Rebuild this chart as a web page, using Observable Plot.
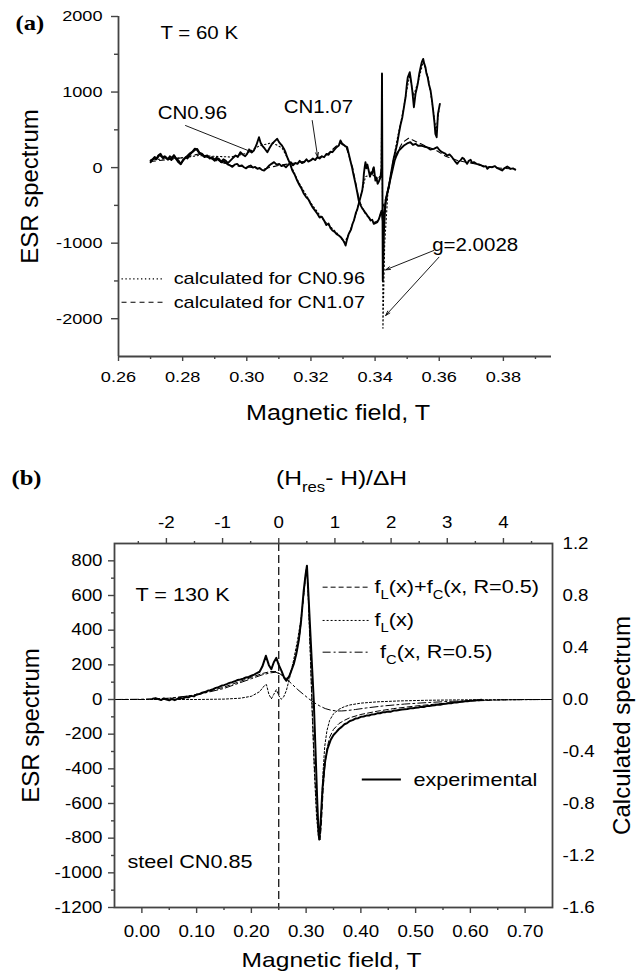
<!DOCTYPE html>
<html><head><meta charset="utf-8">
<script src="https://cdn.jsdelivr.net/npm/d3@7"></script>
<script src="https://cdn.jsdelivr.net/npm/@observablehq/plot@0.6"></script>
<style>
html,body{margin:0;padding:0;background:#fff;}
#wrap{position:relative;width:641px;height:975px;overflow:hidden;background:#fff;}
#pa{position:absolute;left:0;top:0;}
#pb{position:absolute;left:0;top:430px;}
</style></head><body><div id="wrap"><div id="pa"></div><div id="pb"></div></div>
<script>
// ---------------- Panel (a) data: T = 60 K ----------------
const fieldCN096 = [0.2700,0.2705,0.2712,0.2718,0.2724,0.2731,0.2737,0.2744,0.2752,0.2758,0.2765,0.2773,0.2780,0.2787,0.2794,0.2800,0.2809,0.2815,0.2822,0.2830,0.2837,0.2845,0.2852,0.2861,0.2868,0.2877,0.2884,0.2892,0.2900,0.2906,0.2913,0.2920,0.2927,0.2934,0.2941,0.2948,0.2955,0.2965,0.2972,0.2980,0.2988,0.2995,0.3001,0.3008,0.3015,0.3022,0.3030,0.3038,0.3043,0.3048,0.3056,0.3064,0.3071,0.3079,0.3087,0.3095,0.3100,0.3105,0.3110,0.3116,0.3121,0.3126,0.3134,0.3142,0.3150,0.3157,0.3164,0.3171,0.3178,0.3185,0.3192,0.3199,0.3206,0.3213,0.3220,0.3227,0.3234,0.3241,0.3248,0.3255,0.3261,0.3267,0.3274,0.3280,0.3287,0.3293,0.3300,0.3305,0.3308,0.3312,0.3318,0.3325,0.3330,0.3334,0.3340,0.3344,0.3349,0.3354,0.3360,0.3363,0.3365,0.3368,0.3370,0.3373,0.3376,0.3380,0.3384,0.3388,0.3391,0.3394,0.3396,0.3399,0.3401,0.3404,0.3408,0.3412,0.3417,0.3420,0.34215,0.3424,0.3428,0.3433,0.3438,0.3443,0.3448,0.3453,0.3458,0.3464,0.3469,0.3474,0.3479,0.3485,0.3490,0.3495,0.3499,0.3502,0.3508,0.3512,0.3516,0.3521,0.3526,0.3530,0.3533,0.3538,0.3542,0.3546,0.3550,0.3553,0.3557,0.3560,0.3564,0.3568,0.3573,0.3577,0.3581,0.3585,0.3588,0.3592,0.3596,0.3602];
const esrCN096 = [70,95,130,110,160,182,140,150,116,130,100,160,120,95,50,85,138,120,170,204,230,248,200,182,150,160,120,138,105,130,116,80,110,94,60,90,120,160,140,204,170,150,182,240,200,226,300,402,330,292,250,204,260,315,350,381,340,315,290,248,200,138,60,-38,-100,-171,-230,-280,-347,-390,-420,-479,-530,-570,-611,-660,-650,-700,-760,-740,-800,-832,-850,-880,-898,-920,-960,-1000,-1031,-960,-876,-820,-740,-700,-600,-560,-479,-400,-303,-200,-82,20,72,-10,40,-38,-120,-60,-82,-10,5,-100,-171,-130,-214,-180,-127,5,1245,-1500,-800,-435,-330,-259,-120,5,120,226,320,447,560,667,800,931,1100,1196,1262,1150,1020,799,976,1050,1109,1250,1328,1400,1439,1380,1328,1250,1196,1100,1020,900,755,600,447,402,712,844];

const fieldCN107 = [0.2700,0.2706,0.2713,0.2720,0.2727,0.2733,0.2740,0.2747,0.2754,0.2760,0.2767,0.2773,0.2780,0.2787,0.2794,0.2801,0.2809,0.2816,0.2823,0.2830,0.2838,0.2845,0.2852,0.2860,0.2868,0.2877,0.2885,0.2892,0.2900,0.2907,0.2914,0.2921,0.2928,0.2935,0.2942,0.2948,0.2955,0.2962,0.2970,0.2977,0.2984,0.2991,0.2998,0.3005,0.3012,0.3019,0.3026,0.3033,0.3040,0.3047,0.3054,0.3062,0.3070,0.3077,0.3085,0.3093,0.3101,0.3108,0.3115,0.3122,0.3130,0.3137,0.3144,0.3151,0.3158,0.3165,0.3172,0.3179,0.3186,0.3192,0.3199,0.3206,0.3213,0.3220,0.3227,0.3234,0.3241,0.3248,0.3255,0.3261,0.3267,0.3274,0.3280,0.3287,0.3292,0.3297,0.3303,0.3308,0.3313,0.3318,0.3323,0.3328,0.3333,0.3339,0.3344,0.3349,0.3355,0.3360,0.3365,0.3370,0.3376,0.3381,0.3386,0.3391,0.3396,0.3401,0.3407,0.3412,0.3417,0.3420,0.3424,0.3427,0.3432,0.3438,0.3443,0.3449,0.3455,0.3461,0.3467,0.3474,0.3482,0.3490,0.3500,0.3510,0.3518,0.3526,0.3534,0.3542,0.3552,0.3562,0.3572,0.3583,0.3594,0.3601,0.3609,0.3617,0.3625,0.3632,0.3640,0.3648,0.3656,0.3661,0.3666,0.3672,0.3677,0.3682,0.3687,0.3692,0.3698,0.3703,0.3708,0.3716,0.3724,0.3731,0.3739,0.3745,0.3750,0.3757,0.3765,0.3773,0.3781,0.3788,0.3796,0.3804,0.3812,0.3817,0.3822,0.3830,0.3837];
const esrCN107 = [90,110,140,120,165,150,125,140,105,150,130,165,110,70,45,100,130,160,190,210,250,235,190,170,140,155,130,120,90,115,95,70,85,60,40,28,10,40,50,20,30,5,-10,15,28,0,10,-16,-5,-30,-38,-10,28,50,72,40,50,20,30,5,40,72,30,60,50,90,60,72,110,80,94,120,100,138,120,150,138,180,170,210,204,240,270,292,359,320,300,280,270,180,90,5,-100,-214,-320,-435,-500,-540,-568,-600,-634,-660,-700,-690,-744,-735,-722,-680,-611,-570,-700,-611,-480,-347,-240,-127,-20,94,160,226,260,292,320,336,300,315,290,292,280,270,240,248,270,230,204,190,160,175,138,90,50,80,94,130,116,80,50,90,103,60,72,50,41,30,14,20,-16,10,5,20,-8,-20,-38,-5,14,0,-16,-10,-29];

const fieldCalc096 = [0.2700,0.2750,0.2800,0.2850,0.2900,0.2950,0.3000,0.3040,0.3080,0.3110,0.3130,0.3160,0.3200,0.3240,0.3280,0.3305,0.3320,0.3340,0.3360,0.3370,0.3390,0.3410,0.3419,0.34215,0.34245,0.3430,0.3440,0.3455,0.3470,0.3485,0.3500,0.3508,0.3520,0.3535,0.3550,0.3565,0.3580,0.3590,0.3600];
const esrCalc096 = [100,120,130,160,150,140,190,290,330,260,100,-180,-470,-700,-860,-990,-860,-620,-300,-120,-90,-150,-80,1245,-2125,-1000,-330,60,400,700,1050,1220,950,1150,1400,1200,800,480,780];
const fieldCalc107 = [0.2700,0.2800,0.2850,0.2900,0.2950,0.3000,0.3050,0.3100,0.3150,0.3200,0.3250,0.3290,0.3310,0.3330,0.3350,0.3370,0.3395,0.3410,0.3420,0.3435,0.3450,0.3465,0.3485,0.3505,0.3530,0.3560,0.3590,0.3620,0.3660,0.3700,0.3750,0.3800,0.3837];
const esrCalc107 = [80,130,180,100,30,10,-20,30,60,100,170,330,270,0,-430,-620,-730,-700,-580,-380,-80,170,330,390,340,280,230,150,90,60,10,-10,-20];

const xTicksA = [0.26,0.28,0.30,0.32,0.34,0.36,0.38];
const xMinorA = [0.27,0.29,0.31,0.33,0.35,0.37,0.39];
const yTicksA = [-2000,-1000,0,1000,2000];
const yMinorA = [-1500,-500,500,1500];

// ---------------- Panel (b) data: T = 130 K, steel CN0.85 ----------------
const fieldExpB = [0.020,0.025,0.030,0.035,0.040,0.045,0.050,0.055,0.060,0.065,0.070,0.075,0.080,0.085,0.090,0.095,0.100,0.105,0.110,0.115,0.120,0.125,0.130,0.135,0.140,0.145,0.150,0.155,0.160,0.165,0.170,0.175,0.180,0.185,0.190,0.195,0.200,0.205,0.210,0.215,0.220,0.2265,0.232,0.2365,0.241,0.2455,0.250,0.255,0.260,0.264,0.270,0.2775,0.282,0.2865,0.291,0.2955,0.299,0.3015,0.304,0.307,0.310,0.3139,0.317,0.320,0.322,0.3238,0.3255,0.3275,0.330,0.3325,0.335,0.339,0.345,0.350,0.355,0.360,0.365,0.370,0.375,0.380,0.385,0.390,0.395,0.400,0.405,0.410,0.415,0.420,0.425,0.430,0.435,0.440,0.445,0.450,0.455,0.460,0.465,0.470,0.475,0.480,0.485,0.490,0.495,0.500,0.505,0.510,0.515,0.520,0.525,0.530,0.535,0.540,0.545,0.550,0.555,0.560,0.565,0.570,0.575,0.580,0.585,0.590,0.595,0.600,0.605,0.610,0.615,0.620];
const esrExpB = [5,8,2,-3,6,0,-5,3,-4,4,9,5,15,12,21,18,29,31,39,43,50,54,60,67,71,79,83,89,96,100,105,113,116,120,127,130,137,144,152,160,190,252,198,175,215,240,200,165,125,108,140,205,262,340,460,625,720,772,620,430,240,0,-280,-560,-720,-808,-760,-650,-510,-420,-350,-285,-232,-205,-188,-170,-158,-143,-136,-124,-119,-110,-108,-100,-98,-93,-92,-86,-85,-80,-79,-74,-73,-69,-70,-64,-63,-60,-58,-56,-55,-51,-50,-47,-46,-42,-43,-38,-37,-34,-33,-29,-30,-26,-25,-22,-22,-18,-17,-14,-13,-10,-10,-7,-6,-4,-4,-2];

// calculated curves, in units of the right axis ("Calculated spectrum")
const fieldSum = [-0.05,0.00,0.03,0.06,0.09,0.12,0.15,0.18,0.20,0.22,0.235,0.245,0.255,0.262,0.268,0.275,0.282,0.289,0.295,0.2995,0.3015,0.3045,0.308,0.311,0.315,0.319,0.3225,0.3255,0.328,0.331,0.334,0.338,0.343,0.35,0.36,0.37,0.38,0.40,0.43,0.46,0.50,0.55,0.60,0.65,0.70,0.75];
const calcSum = [0,0,0.003,0.012,0.03,0.06,0.095,0.14,0.17,0.2,0.215,0.215,0.19,0.16,0.17,0.25,0.35,0.52,0.78,0.97,1.03,0.75,0.33,-0.05,-0.5,-0.85,-1.04,-1.08,-0.95,-0.7,-0.52,-0.38,-0.29,-0.23,-0.185,-0.16,-0.14,-0.115,-0.09,-0.07,-0.05,-0.03,-0.012,-0.004,0,0];
const fieldFL = [-0.05,0.10,0.15,0.18,0.20,0.215,0.2245,0.2275,0.232,0.2365,0.241,0.2455,0.250,0.2545,0.259,0.264,0.270,0.277,0.284,0.290,0.2955,0.2995,0.3015,0.3045,0.308,0.311,0.315,0.319,0.3225,0.3255,0.328,0.331,0.334,0.338,0.343,0.35,0.36,0.37,0.38,0.40,0.43,0.47,0.52,0.60,0.75];
const calcFL = [0,0,0.003,0.01,0.025,0.06,0.11,0.115,0.04,0.005,0.04,0.075,0.03,0.002,0.02,0.07,0.17,0.3,0.45,0.6,0.8,0.98,1.02,0.72,0.3,-0.1,-0.55,-0.9,-1.06,-1.05,-0.85,-0.55,-0.36,-0.24,-0.16,-0.11,-0.075,-0.055,-0.042,-0.028,-0.018,-0.011,-0.006,-0.002,0];
const fieldFC = [-0.05,0.00,0.05,0.10,0.15,0.18,0.20,0.22,0.235,0.245,0.255,0.265,0.275,0.285,0.295,0.305,0.315,0.325,0.335,0.345,0.355,0.365,0.375,0.39,0.41,0.44,0.48,0.52,0.56,0.60,0.65,0.70,0.75];
const calcFC = [0,0.002,0.01,0.035,0.085,0.13,0.16,0.19,0.205,0.21,0.19,0.155,0.115,0.075,0.04,0.005,-0.025,-0.05,-0.07,-0.082,-0.088,-0.088,-0.085,-0.077,-0.065,-0.05,-0.035,-0.024,-0.015,-0.008,-0.003,-0.001,0];

const xTicksB = [0.00,0.10,0.20,0.30,0.40,0.50,0.60,0.70];
const xMinorB = [0.05,0.15,0.25,0.35,0.45,0.55,0.65];
const yTicksB = [-1200,-1000,-800,-600,-400,-200,0,200,400,600,800];
const yMinorB = [-1100,-900,-700,-500,-300,-100,100,300,500,700];
const rightTicksB = [-1.6,-1.2,-0.8,-0.4,0.0,0.4,0.8,1.2];
const topTicksB = [-2,-1,0,1,2,3,4];
const topMinorB = [-2.5,-1.5,-0.5,0.5,1.5,2.5,3.5,4.5];
const hRes = 0.25;        // resonance field, T
const deltaH = 0.1026;    // line width, T
const calcToEsr = 750;    // right axis -> left axis factor

// ---------------- helpers ----------------
const zip = (xs, ys) => xs.map((x, i) => ({x, y: ys[i]}));
const axisColor = "#444";
const sans = "'Liberation Sans', Arial, Helvetica, sans-serif";
const serif = "'Liberation Serif', 'Times New Roman', serif";
const STRETCH = 1.17;

// ---------------- Panel (a) ----------------
const exp096 = zip(fieldCN096, esrCN096);
const exp107 = zip(fieldCN107, esrCN107);
const calc096 = zip(fieldCalc096, esrCalc096);
const calc107 = zip(fieldCalc107, esrCalc107);

const notesA = [
  {label: "T = 60 K", x: 0.2731, y: 1775, size: 17.5},
  {label: "CN0.96", x: 0.2722, y: 720, size: 17.5},
  {label: "CN1.07", x: 0.3115, y: 800, size: 17.5},
  {label: "g=2.0028", x: 0.3578, y: -1031, size: 17.5},
  {label: "calculated for CN0.96", x: 0.2772, y: -1472, size: 17},
  {label: "calculated for CN1.07", x: 0.2772, y: -1781, size: 17}
];
const arrowsA = [
  {x1: 0.2809, y1: 557, x2: 0.3017, y2: 204},
  {x1: 0.3204, y1: 623, x2: 0.3221, y2: 138},
  {x1: 0.3583, y1: -1097, x2: 0.3433, y2: -1353},
  {x1: 0.3599, y1: -1186, x2: 0.3433, y2: -1957}
];
const legendA = [
  {y: -1472, x1: 0.2611, x2: 0.2741},
  {y: -1781, x1: 0.2611, x2: 0.2741}
];

const plotA = Plot.plot({
  width: 641, height: 430,
  marginLeft: 118, marginRight: 90, marginTop: 16, marginBottom: 74,
  x: {domain: [0.26, 0.395], label: null},
  y: {domain: [-2500, 2000], label: null},
  style: {fontFamily: sans, fontSize: "15.5px", color: "black", background: "white", overflow: "visible"},
  marks: [
    Plot.axisY({ticks: yTicksA, tickSize: 7, tickPadding: 9, tickFormat: d => String(d), stroke: axisColor, strokeWidth: 1.4, fontSize: 15.5, label: null}),
    Plot.axisY({ticks: yMinorA, tickSize: 4, tickFormat: () => "", stroke: axisColor, strokeWidth: 1.4, label: null}),
    Plot.axisX({ticks: xTicksA, tickSize: 5, tickPadding: 9, tickFormat: d => d.toFixed(2), stroke: axisColor, strokeWidth: 1.4, fontSize: 15.5, label: null}),
    Plot.axisX({ticks: xMinorA, tickSize: 3, tickFormat: () => "", stroke: axisColor, strokeWidth: 1.4, label: null}),
    Plot.ruleX([0.26], {stroke: axisColor, strokeWidth: 1.8}),
    Plot.ruleY([-2500], {stroke: axisColor, strokeWidth: 1.8}),
    Plot.line(calc096, {x: "x", y: "y", stroke: "black", strokeWidth: 1.1, strokeDasharray: "1.3,2.6"}),
    Plot.line(calc107, {x: "x", y: "y", stroke: "black", strokeWidth: 1.1, strokeDasharray: "5,4"}),
    Plot.line(exp096, {x: "x", y: "y", stroke: "black", strokeWidth: 1.9}),
    Plot.line(exp107, {x: "x", y: "y", stroke: "black", strokeWidth: 1.9}),
    Plot.ruleY(legendA.slice(0, 1), {y: "y", x1: "x1", x2: "x2", stroke: "black", strokeWidth: 1.1, strokeDasharray: "1.3,2.6"}),
    Plot.ruleY(legendA.slice(1), {y: "y", x1: "x1", x2: "x2", stroke: "black", strokeWidth: 1.1, strokeDasharray: "5,4"}),
    Plot.arrow(arrowsA, {x1: "x1", y1: "y1", x2: "x2", y2: "y2", stroke: "black", strokeWidth: 0.9, headLength: 8, headAngle: 35}),
    Plot.text(notesA, {x: "x", y: "y", text: "label", textAnchor: "start", lineAnchor: "middle", fontSize: d => d.size, fill: "black"}),
    Plot.text(["ESR spectrum"], {text: d => d, frameAnchor: "left", dx: -88, rotate: -90, textAnchor: "middle", lineAnchor: "middle", fontSize: 24, fill: "black"}),
    Plot.text(["Magnetic field, T"], {text: d => d, frameAnchor: "bottom", dx: 3, dy: 57, textAnchor: "middle", lineAnchor: "middle", fontSize: 21.5, fill: "black"}),
    Plot.text(["(a)"], {text: d => d, frameAnchor: "top-left", dx: -103, dy: 7, textAnchor: "start", lineAnchor: "middle", fontSize: 21, fontWeight: "bold", fontFamily: serif, fill: "black"})
  ]
});

// ---------------- Panel (b) ----------------
const expB = zip(fieldExpB, esrExpB);
const sumB = zip(fieldSum, calcSum);
const fLB = zip(fieldFL, calcFL);
const fCB = zip(fieldFC, calcFC);

const notesB = [
  {label: "T = 130 K", x: -0.0116, y: 600},
  {label: "steel CN0.85", x: -0.0263, y: -939},
  {label: "f_{L}(x)+f_{C}(x, R=0.5)", x: 0.425, y: 648},
  {label: "f_{L}(x)", x: 0.425, y: 456},
  {label: "f_{C}(x, R=0.5)", x: 0.435, y: 273},
  {label: "experimental", x: 0.496, y: -462}
];
const legendB = [
  {y: 648, x1: 0.331, x2: 0.415},
  {y: 456, x1: 0.331, x2: 0.415},
  {y: 273, x1: 0.331, x2: 0.415},
  {y: -462, x1: 0.4026, x2: 0.474}
];

const plotB = Plot.plot({
  width: 641, height: 545,
  marginLeft: 114, marginRight: 89, marginTop: 113, marginBottom: 68,
  x: {domain: [-0.05, 0.75], label: null},
  y: {domain: [-1200, 900], label: null},
  style: {fontFamily: sans, fontSize: "16px", color: "black", background: "white", overflow: "visible"},
  marks: [
    Plot.ruleX([hRes], {stroke: "black", strokeWidth: 1.2, strokeDasharray: "8,4"}),
    Plot.line(fCB, {x: "x", y: d => d.y * calcToEsr, stroke: "black", strokeWidth: 1, strokeDasharray: "8,3,2,3"}),
    Plot.line(fLB, {x: "x", y: d => d.y * calcToEsr, stroke: "black", strokeWidth: 1, strokeDasharray: "2,2"}),
    Plot.line(sumB, {x: "x", y: d => d.y * calcToEsr, stroke: "black", strokeWidth: 1, strokeDasharray: "5,3"}),
    Plot.line(expB, {x: "x", y: "y", stroke: "black", strokeWidth: 2}),
    Plot.frame({stroke: axisColor, strokeWidth: 1.8}),
    Plot.axisY({ticks: yTicksB, tickSize: 6, tickPadding: 6, tickFormat: d => String(d), stroke: axisColor, strokeWidth: 1.4, fontSize: 16, label: null}),
    Plot.axisY({ticks: yMinorB, tickSize: 3, tickFormat: () => "", stroke: axisColor, strokeWidth: 1.4, label: null}),
    Plot.axisY({anchor: "right", ticks: rightTicksB.map(v => v * calcToEsr), tickSize: 0, tickPadding: 10, tickFormat: d => (d / calcToEsr).toFixed(1), fontSize: 16, label: null}),
    Plot.axisX({ticks: xTicksB, tickSize: 6, tickPadding: 12, tickFormat: d => d.toFixed(2), stroke: axisColor, strokeWidth: 1.4, fontSize: 16, label: null}),
    Plot.axisX({ticks: xMinorB, tickSize: 3, tickFormat: () => "", stroke: axisColor, strokeWidth: 1.4, label: null}),
    Plot.axisX({anchor: "top", ticks: topTicksB.map(u => hRes + u * deltaH), tickSize: 6, tickPadding: 10, tickFormat: d => String(Math.round((d - hRes) / deltaH)), stroke: axisColor, strokeWidth: 1.4, fontSize: 16, label: null}),
    Plot.axisX({anchor: "top", ticks: topMinorB.map(u => hRes + u * deltaH), tickSize: 3, tickFormat: () => "", stroke: axisColor, strokeWidth: 1.4, label: null}),
    Plot.ruleY(legendB.slice(0, 1), {y: "y", x1: "x1", x2: "x2", stroke: "black", strokeWidth: 1, strokeDasharray: "5,3"}),
    Plot.ruleY(legendB.slice(1, 2), {y: "y", x1: "x1", x2: "x2", stroke: "black", strokeWidth: 1, strokeDasharray: "2,2"}),
    Plot.ruleY(legendB.slice(2, 3), {y: "y", x1: "x1", x2: "x2", stroke: "black", strokeWidth: 1, strokeDasharray: "8,3,2,3"}),
    Plot.ruleY(legendB.slice(3), {y: "y", x1: "x1", x2: "x2", stroke: "black", strokeWidth: 2}),
    Plot.text(notesB, {x: "x", y: "y", text: "label", textAnchor: "start", lineAnchor: "middle", fontSize: 18.5, fill: "black"}),
    Plot.text(["ESR spectrum"], {text: d => d, frameAnchor: "left", dx: -83, rotate: -90, textAnchor: "middle", lineAnchor: "middle", fontSize: 24, fill: "black"}),
    Plot.text(["Calculated spectrum"], {text: d => d, frameAnchor: "right", dx: 70, rotate: -90, textAnchor: "middle", lineAnchor: "middle", fontSize: 24, fill: "black"}),
    Plot.text(["Magnetic field, T"], {text: d => d, frameAnchor: "bottom", dx: -2, dy: 53, textAnchor: "middle", lineAnchor: "middle", fontSize: 21, fill: "black"}),
    Plot.text(["(H_{res}- H)/ΔH"], {text: d => d, frameAnchor: "top", dx: 8, dy: -65, textAnchor: "middle", lineAnchor: "middle", fontSize: 21, fill: "black"}),
    Plot.text(["(b)"], {text: d => d, frameAnchor: "top-left", dx: -103, dy: -65, textAnchor: "start", lineAnchor: "middle", fontSize: 21, fontWeight: "bold", fontFamily: serif, fill: "black"})
  ]
});

document.getElementById("pa").appendChild(plotA);
document.getElementById("pb").appendChild(plotB);

// subscripts written as _{...}
function addSubscripts(svg) {
  const ns = "http://www.w3.org/2000/svg";
  svg.querySelectorAll("text").forEach(t => {
    const s = t.textContent;
    if (!s.includes("_{")) return;
    const fs = parseFloat(getComputedStyle(t).fontSize) || 18;
    while (t.firstChild) t.removeChild(t.firstChild);
    const re = /_\{([^}]*)\}/g;
    let last = 0, m;
    const parts = [];
    while ((m = re.exec(s))) {
      parts.push([s.slice(last, m.index), false]);
      parts.push([m[1], true]);
      last = re.lastIndex;
    }
    parts.push([s.slice(last), false]);
    let shifted = false;
    for (const [str, sub] of parts) {
      if (!str) continue;
      const ts = document.createElementNS(ns, "tspan");
      ts.textContent = str;
      if (sub) {
        ts.setAttribute("font-size", (fs * 0.68).toFixed(1));
        if (!shifted) ts.setAttribute("dy", (fs * 0.3).toFixed(1));
        shifted = true;
      } else if (shifted) {
        ts.setAttribute("dy", (-fs * 0.3).toFixed(1));
        shifted = false;
      }
      t.appendChild(ts);
    }
  });
}
// the reference glyphs are slightly wider than Arial proportions
function widen(svg) {
  svg.querySelectorAll("text").forEach(t => {
    if (!t.textContent.trim()) return;
    const tr = (t.getAttribute("transform") || "") + (t.parentNode.getAttribute("transform") || "");
    if (tr.includes("rotate")) return;
    const L = t.getComputedTextLength();
    if (L > 0) {
      t.setAttribute("textLength", (L * STRETCH).toFixed(1));
      t.setAttribute("lengthAdjust", "spacingAndGlyphs");
    }
  });
}
[plotA, plotB].forEach(svg => { addSubscripts(svg); widen(svg); });
</script></body></html>
